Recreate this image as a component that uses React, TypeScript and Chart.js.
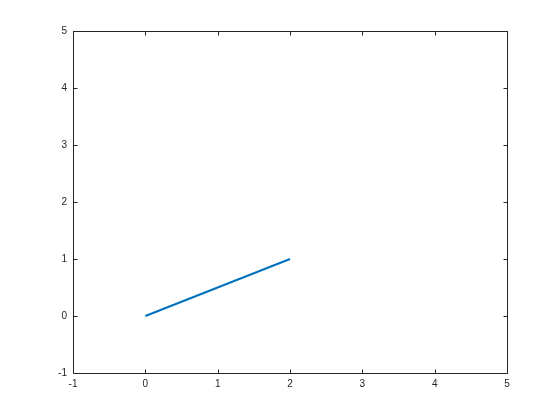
import React, { useEffect, useRef } from "react";
import { Chart, registerables } from "chart.js";

Chart.register(...registerables);

const xValues = [0, 2];
const yValues = [0, 1];
const xRange = [-1, 5];
const yRange = [-1, 5];
const tickStep = 1;

const AXIS_COLOR = "#262626";

const boxPlugin = {
  id: "octaveBox",
  afterDraw(chart: any) {
    const { ctx, chartArea } = chart;
    const { left, right, top, bottom } = chartArea;
    const xs = chart.scales.x;
    const ys = chart.scales.y;
    ctx.save();
    ctx.strokeStyle = AXIS_COLOR;
    ctx.lineWidth = 1;
    ctx.beginPath();
    const L = Math.round(left) + 0.5;
    const R = Math.round(right) + 0.5;
    const T = Math.round(top) + 0.5;
    const B = Math.round(bottom) + 0.5;
    ctx.rect(L, T, R - L, B - T);
    const tl = 4;
    for (let v = xRange[0]; v <= xRange[1]; v += tickStep) {
      const px = Math.round(xs.getPixelForValue(v)) + 0.5;
      ctx.moveTo(px, B);
      ctx.lineTo(px, B - tl);
      ctx.moveTo(px, T);
      ctx.lineTo(px, T + tl);
    }
    for (let v = yRange[0]; v <= yRange[1]; v += tickStep) {
      const py = Math.round(ys.getPixelForValue(v)) + 0.5;
      ctx.moveTo(L, py);
      ctx.lineTo(L + tl, py);
      ctx.moveTo(R, py);
      ctx.lineTo(R - tl, py);
    }
    ctx.stroke();
    ctx.restore();
  },
};

export default function App() {
  const ref = useRef<HTMLCanvasElement | null>(null);
  useEffect(() => {
    if (!ref.current) return;
    const chart = new Chart(ref.current, {
      type: "scatter",
      data: {
        datasets: [
          {
            data: xValues.map((x, i) => ({ x, y: yValues[i] })),
            showLine: true,
            borderColor: "#0072BD",
            backgroundColor: "#0072BD",
            borderWidth: 2,
            pointRadius: 0,
          },
        ],
      },
      options: {
        responsive: false,
        animation: false,
        layout: { padding: { top: 31, right: 53, left: 0, bottom: 0 } },
        plugins: { legend: { display: false }, tooltip: { enabled: false } },
        scales: {
          x: {
            type: "linear",
            min: xRange[0],
            max: xRange[1],
            grid: { display: false, drawTicks: false },
            border: { display: false },
            ticks: {
              stepSize: tickStep,
              color: AXIS_COLOR,
              padding: 5,
              maxRotation: 0,
              font: { family: "Liberation Sans, Arial, sans-serif", size: 10 },
            },
            afterFit: (s: any) => {
              s.height = 47;
            },
          },
          y: {
            type: "linear",
            min: yRange[0],
            max: yRange[1],
            grid: { display: false, drawTicks: false },
            border: { display: false },
            ticks: {
              stepSize: tickStep,
              color: AXIS_COLOR,
              padding: 6,
              font: { family: "Liberation Sans, Arial, sans-serif", size: 10 },
            },
            afterFit: (s: any) => {
              s.width = 73;
            },
          },
        },
      },
      plugins: [boxPlugin],
    });
    return () => chart.destroy();
  }, []);
  return (
    <div style={{ position: "fixed", left: 0, top: 0, width: 560, height: 420, background: "#fff" }}>
      <canvas ref={ref} width={560} height={420} />
    </div>
  );
}
